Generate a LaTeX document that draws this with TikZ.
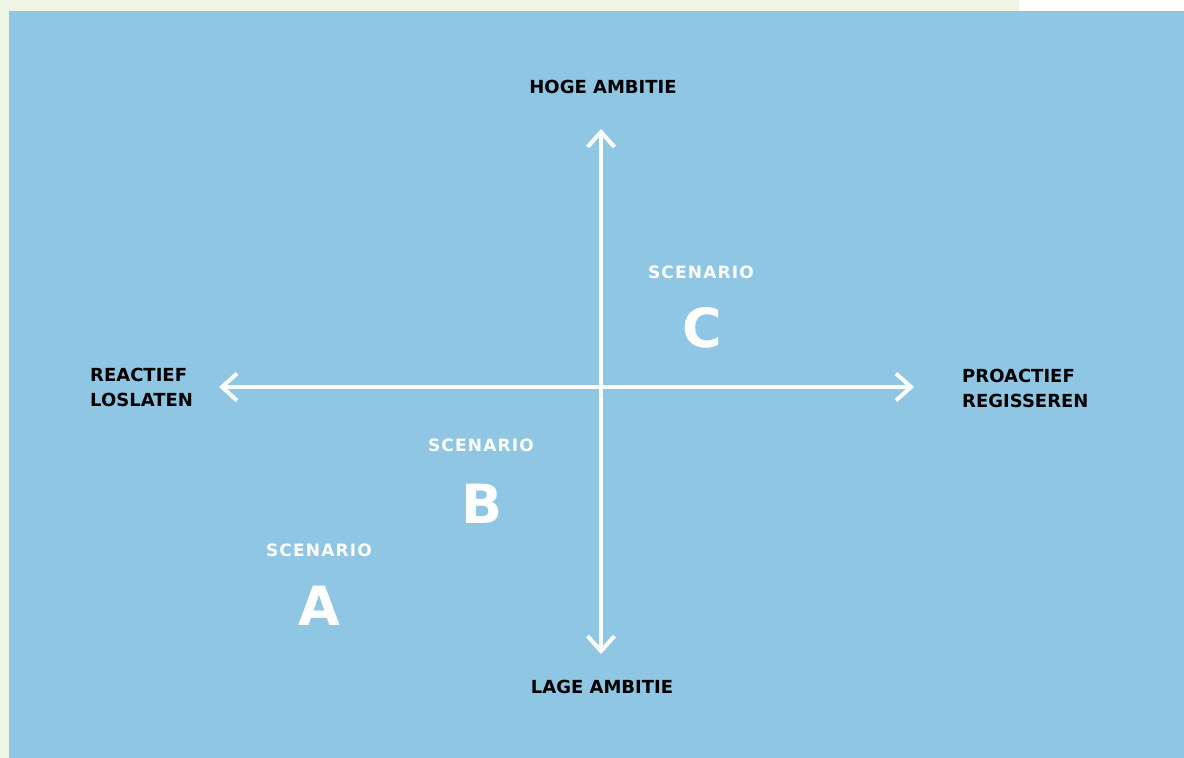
\documentclass[tikz,border=0pt]{standalone}
\usepackage{fontspec}
\usepackage{tikz}
\usetikzlibrary{arrows.meta}
\setmainfont{DejaVu Sans}
\newfontfamily\scenfont[LetterSpace=7]{DejaVu Sans}
\definecolor{paleblue}{HTML}{8FC6E4}
\definecolor{palegreen}{HTML}{EDF5E5}
\tikzset{
    axislabel/.style={inner sep=0pt, font=\bfseries\fontsize{18}{25}\selectfont, text=black},
    scenlabel/.style={inner sep=0pt, font=\scenfont\bfseries\fontsize{17}{20}\selectfont, text=white},
    scenletter/.style={inner sep=0pt, font=\bfseries\fontsize{54}{54}\selectfont, text=white},
    axis/.style={draw=white, line width=3.5pt, {Straight Barb[length=15pt, width=27pt, line width=4pt]}-{Straight Barb[length=15pt, width=27pt, line width=4pt]}}
}

\begin{document}
\begin{tikzpicture}[x=1pt, y=-1pt]
                        \useasboundingbox (0,0) rectangle (1184,758);
                        \fill[palegreen] (0,0) rectangle (1019,758);
                        \fill[white] (1019,0) rectangle (1184,11);
                        \fill[paleblue] (9,11) rectangle (1184,758);

                        \coordinate (N) at (601, 129);
                        \coordinate (S) at (601, 654);
                        \coordinate (W) at (219, 387);
                        \coordinate (E) at (914, 387);

                        \draw[axis] (W) -- (E);
                        \draw[axis] (S) -- (N);

                        \node[axislabel] (high) at (603, 87) {HOGE AMBITIE};
                        \node[axislabel] (low) at (602, 687) {LAGE AMBITIE};
                        \node[axislabel, anchor=west, align=left] (reactive) at (90, 387) {REACTIEF\\LOSLATEN};
                        \node[axislabel, anchor=west, align=left] (proactive) at (962, 388) {PROACTIEF\\REGISSEREN};

                        \node[scenlabel] (scC) at (701, 272) {SCENARIO};
                        \node[scenletter] (C) at (702, 328) {C};
                        \node[scenlabel] (scB) at (481, 445) {SCENARIO};
                        \node[scenletter] (B) at (482, 504) {B};
                        \node[scenlabel] (scA) at (319, 550) {SCENARIO};
                        \node[scenletter] (A) at (319, 606) {A};
                    \end{tikzpicture}
\end{document}
